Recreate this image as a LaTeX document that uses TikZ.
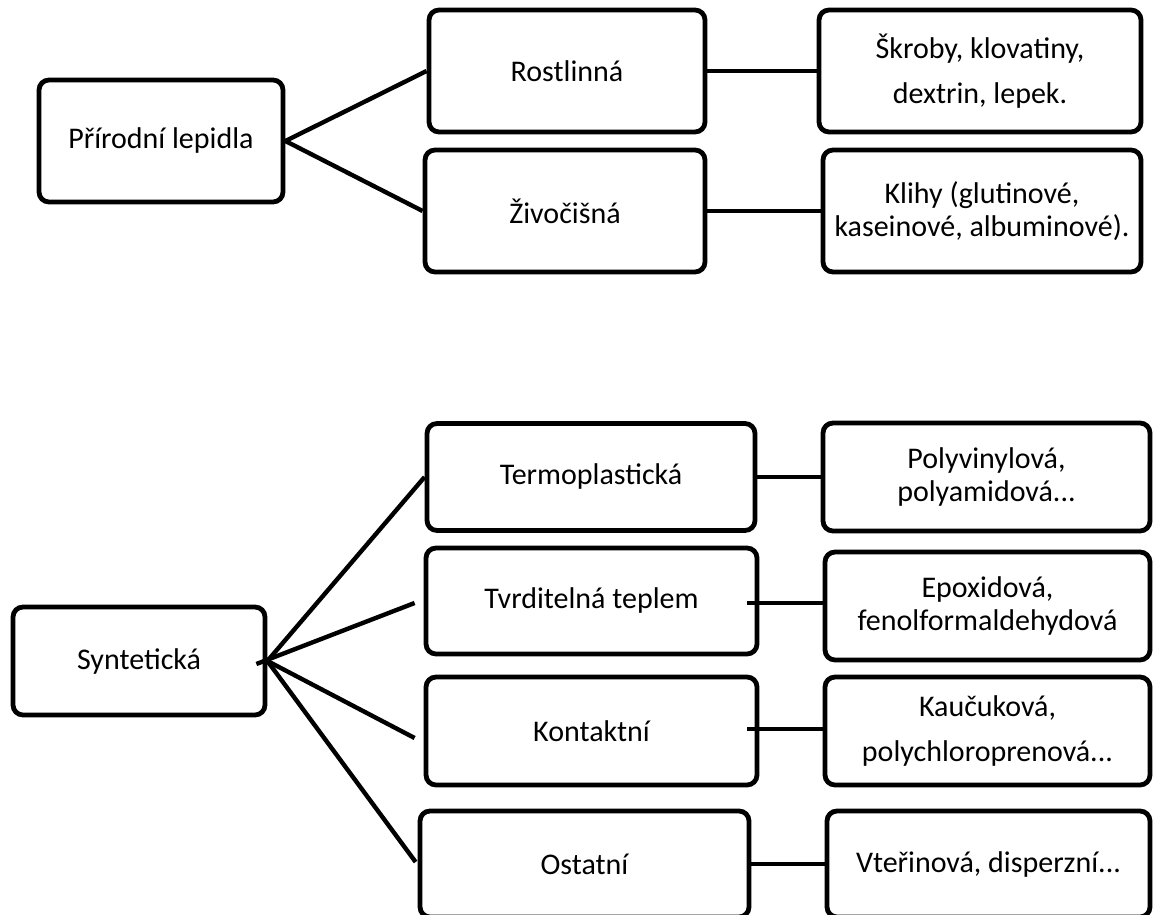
\documentclass[tikz,border=0pt]{standalone}
\usepackage{fontspec}
\setmainfont{Carlito}
\usetikzlibrary{calc}

\begin{document}
\begin{tikzpicture}[x=0.5pt,y=-0.5pt,
    box/.style={draw,line width=2.4pt,rounded corners=5pt,align=center,
      inner sep=0pt,font=\fontsize{15}{16.5}\selectfont},
    link/.style={line width=2.2pt}]
    \useasboundingbox (0,0) rectangle (1153,915);

    % natural adhesives
    \node[box,minimum width=122pt,minimum height=61pt] (prir) at (161,141) {Přírodní lepidla};
    \node[box,minimum width=138pt,minimum height=61pt] (rost) at (567,71) {Rostlinná};
    \node[box,minimum width=140pt,minimum height=61pt] (ziv) at (565,211) {Živočišná};
    \node[box,minimum width=161pt,minimum height=61pt] (skrob) at (980,71) {Škroby, klovatiny,\\[6pt] dextrin, lepek.};
    \node[box,minimum width=159pt,minimum height=61pt] (klih) at (982,211) {Klihy (glutinové,\\ kaseinové, albuminové).};

    \foreach \b in {rost,ziv}{
      \draw[link] (prir.east) -- (\b.west);
    }
    \draw[link] (rost.east) -- (skrob.west);
    \draw[link] (ziv.east) -- (klih.west);

    % synthetic adhesives
    \node[box,minimum width=126pt,minimum height=54pt] (synt) at (139,661) {Syntetická};
    \node[box,minimum width=164pt,minimum height=53.5pt] (termo) at (591,477) {Termoplastická};
    \node[box,minimum width=165.5pt,minimum height=53pt] (tvrd) at (591.5,601) {Tvrditelná teplem};
    \node[box,minimum width=165.5pt,minimum height=54pt] (kont) at (591.5,731) {Kontaktní};
    \node[box,minimum width=164.5pt,minimum height=53pt] (ost) at (584.5,864) {Ostatní};
    \node[box,minimum width=163.5pt,minimum height=54pt] (poly) at (986.5,477) {Polyvinylová,\\ polyamidová...};
    \node[box,minimum width=162.5pt,minimum height=54pt] (epox) at (987.5,606) {Epoxidová,\\ fenolformaldehydová};
    \node[box,minimum width=162.5pt,minimum height=54pt] (kauc) at (987.5,731) {Kaučuková,\\[6pt] polychloroprenová...};
    \node[box,minimum width=161.5pt,minimum height=53pt] (vter) at (988.5,864) {Vteřinová, disperzní...};

    \coordinate (stub) at ($(synt.east)+(-11,3)$);
    \coordinate (tvrdEnd) at ($(tvrd.west)+(-9,2)$);
    \coordinate (kontEnd) at ($(kont.west)+(-9,7)$);
    \coordinate (ostEnd) at ($(ost.west)+(-2,-2)$);
    \coordinate (tvrdStub) at ($(tvrd.east)+(-12,2)$);
    \coordinate (kontStub) at ($(kont.east)+(-12,-2)$);

    \draw[link] (synt.east) -- (termo.west);
    \draw[link] (stub) -- (tvrdEnd);
    \draw[link] (synt.east) -- (kontEnd);
    \draw[link] (synt.east) -- (ostEnd);

    \draw[link] (termo.east) -- (poly.west);
    \draw[link] (tvrdStub) -- (tvrdStub -| epox.west);
    \draw[link] (kontStub) -- (kontStub -| kauc.west);
    \draw[link] (ost.east) -- (vter.west);
  \end{tikzpicture}
\end{document}
